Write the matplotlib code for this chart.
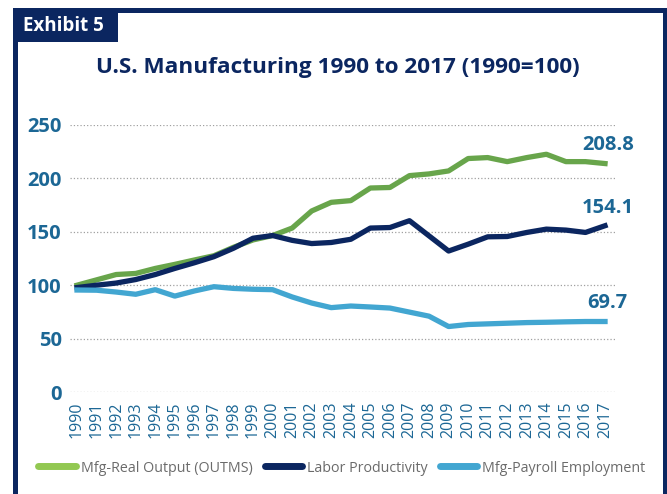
import numpy as np
import matplotlib
matplotlib.use("Agg")
import matplotlib.pyplot as plt
from matplotlib.patches import Rectangle
from matplotlib.lines import Line2D

# 資料
years = list(range(1990, 2018))
real_output = [100, 105, 110, 111, 115.7, 119.5, 123.6, 127.6, 135.5, 142.4,
               146.5, 153.5, 169.5, 177.6, 179.2, 191, 191.5, 202.6, 204.2, 207,
               218.6, 219.5, 215.7, 219.5, 222.6, 215.7, 215.7, 213.9]
productivity = [97.8, 100, 102, 105.3, 110, 115.7, 121, 126.7, 134.6, 144,
                146.5, 142, 139, 140, 143, 153.5, 154, 160.4, 146.2, 132,
                138.4, 145.3, 145.6, 149.4, 152.5, 151.6, 149.4, 155.7]
employment = [95.5, 95.3, 93.6, 91.5, 95.8, 89.8, 94.6, 98.6, 97, 96.2,
              95.8, 89, 83.3, 79, 80.5, 79.6, 78.6, 74.8, 71, 61.3,
              63.2, 63.8, 64.4, 65, 65.3, 65.7, 66, 66]
series_names = ["Mfg-Real Output (OUTMS)", "Labor Productivity", "Mfg-Payroll Employment"]
end_labels = ["208.8", "154.1", "69.7"]
yticks = [0, 50, 100, 150, 200, 250]

line_colors = ["#68a54b", "#0b2660", "#42a6d1"]
legend_colors = ["#92c852", "#0b2660", "#42a6d1"]
navy = "#0b2660"
teal = "#1c6795"

plt.rcParams.update({
    "font.family": ["Open Sans", "DejaVu Sans"],
})

W, H = 667, 494
fig = plt.figure(figsize=(W / 100, H / 100), dpi=100)

# 外框
def px_rect(x0, y0, x1, y1, color):
    fig.add_artist(Rectangle((x0 / W, 1 - y1 / H), (x1 - x0) / W, (y1 - y0) / H,
                             transform=fig.transFigure, color=color, lw=0))

px_rect(13, 8, 667, 13, navy)
px_rect(13, 8, 18, 494, navy)
px_rect(663, 8, 667, 494, navy)
px_rect(13, 8, 118, 42, navy)
fig.text(23 / W, 1 - 26 / H, "Exhibit 5", color="white", fontsize=13.5,
         fontweight="bold", ha="left", va="center")

fig.text(338 / W, 1 - 68 / H, "U.S. Manufacturing 1990 to 2017 (1990=100)",
         color=navy, fontsize=16.2, fontweight="bold", ha="center", va="center")

# 主圖
ax = fig.add_axes([70 / W, 1 - 392 / H, 545 / W, 267 / H])
x = np.array(years)
for vals, c in zip([real_output, productivity, employment], line_colors):
    ax.plot(x, vals, color=c, lw=3.8)

for vals, lab in zip([real_output, productivity, employment], end_labels):
    ax.annotate(lab, (years[-1], vals[-1]), xytext=(2, 13), textcoords="offset points",
                ha="center", va="center", color=teal, fontsize=14.5, fontweight="bold")

ax.set_ylim(0, 250)
ax.set_xlim(1990 - 0.36, 2017 + 0.51)
ax.set_yticks(yticks)
ax.set_xticks(years)
ax.set_xticklabels([str(y) for y in years], rotation=90, fontsize=11.5, color=teal)
ax.tick_params(axis="y", labelsize=14.5, labelcolor=teal, length=0, pad=6)
ax.tick_params(axis="x", length=0, pad=7)
for t in ax.get_yticklabels():
    t.set_fontweight("bold")
ax.grid(axis="y", color="#a0a0a0", ls=":", lw=0.9)
ax.set_axisbelow(True)
for s in ax.spines.values():
    s.set_visible(False)

handles = [Line2D([0], [0], color=c, lw=5, solid_capstyle="round") for c in legend_colors]
fig.legend(handles, series_names, loc="center", bbox_to_anchor=(342 / W, 1 - 468 / H),
           ncol=3, frameon=False, fontsize=10.3, labelcolor="#6b6b6b",
           handlelength=2.6, handletextpad=0.4, columnspacing=0.8)

fig.savefig("out.png", dpi=100)
